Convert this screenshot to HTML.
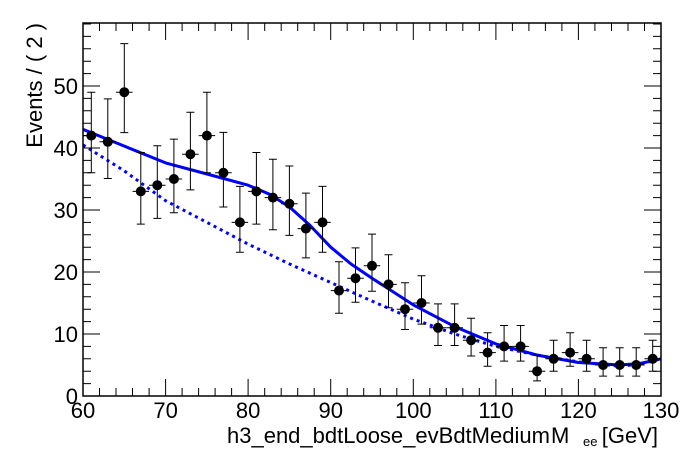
<!DOCTYPE html>
<html><head><style>body{margin:0;background:#fff}svg{display:block}text{font-family:"Liberation Sans",Arial,sans-serif}</style></head>
<body>
<svg width="696" height="472" viewBox="0 0 696 472" xmlns="http://www.w3.org/2000/svg">
<path d="M83,144.9 L124.3,170.9 L165.6,200.7 L206.9,222.4 L248.1,244.1 L289.4,263.9 L330.7,282.5 L372,301.1 L413.3,319.1 L454.6,334 L495.9,346.4 L537.1,355.1 L578.4,361.9 L619.7,366.2 L640,364 L661,358.8" fill="none" stroke="#0000ff" stroke-width="3" stroke-dasharray="3,4"/>
<path d="M83,129.4 L124.3,146.1 L165.6,162.9 L206.9,174 L248.1,185.2 L269,194 L289.4,206.9 L310.1,225.5 L330.7,247.2 L351,264 L372,278.2 L413.3,304.9 L454.6,326.6 L495.9,343.9 L537.1,355.1 L578.4,362.5 L619.7,365 L640,363.5 L661,358.8" fill="none" stroke="#0000ff" stroke-width="3" stroke-linejoin="round"/>
<g stroke="#000" stroke-width="1" fill="#000">
<g transform="translate(91.3,135.6)"><path d="M-8.26,0H8.26M0,-43.4V37.2M-4,-43.4H4M-4,37.2H4"/><circle r="4.5"/></g>
<g transform="translate(107.8,141.8)"><path d="M-8.26,0H8.26M0,-42.9V36.7M-4,-42.9H4M-4,36.7H4"/><circle r="4.5"/></g>
<g transform="translate(124.3,92.2)"><path d="M-8.26,0H8.26M0,-48.6V40.4M-4,-48.6H4M-4,40.4H4"/><circle r="4.5"/></g>
<g transform="translate(140.8,191.4)"><path d="M-8.26,0H8.26M0,-38.9V32.7M-4,-38.9H4M-4,32.7H4"/><circle r="4.5"/></g>
<g transform="translate(157.3,185.2)"><path d="M-8.26,0H8.26M0,-39.4V33.2M-4,-39.4H4M-4,33.2H4"/><circle r="4.5"/></g>
<g transform="translate(173.9,179)"><path d="M-8.26,0H8.26M0,-39.9V33.7M-4,-39.9H4M-4,33.7H4"/><circle r="4.5"/></g>
<g transform="translate(190.4,154.2)"><path d="M-8.26,0H8.26M0,-41.9V35.7M-4,-41.9H4M-4,35.7H4"/><circle r="4.5"/></g>
<g transform="translate(206.9,135.6)"><path d="M-8.26,0H8.26M0,-43.4V37.2M-4,-43.4H4M-4,37.2H4"/><circle r="4.5"/></g>
<g transform="translate(223.4,172.8)"><path d="M-8.26,0H8.26M0,-40.4V34.2M-4,-40.4H4M-4,34.2H4"/><circle r="4.5"/></g>
<g transform="translate(239.9,222.4)"><path d="M-8.26,0H8.26M0,-36V29.9M-4,-36H4M-4,29.9H4"/><circle r="4.5"/></g>
<g transform="translate(256.4,191.4)"><path d="M-8.26,0H8.26M0,-38.9V32.7M-4,-38.9H4M-4,32.7H4"/><circle r="4.5"/></g>
<g transform="translate(272.9,197.6)"><path d="M-8.26,0H8.26M0,-38.3V32.1M-4,-38.3H4M-4,32.1H4"/><circle r="4.5"/></g>
<g transform="translate(289.4,203.8)"><path d="M-8.26,0H8.26M0,-37.8V31.6M-4,-37.8H4M-4,31.6H4"/><circle r="4.5"/></g>
<g transform="translate(305.9,228.6)"><path d="M-8.26,0H8.26M0,-35.5V29.3M-4,-35.5H4M-4,29.3H4"/><circle r="4.5"/></g>
<g transform="translate(322.5,222.4)"><path d="M-8.26,0H8.26M0,-36V29.9M-4,-36H4M-4,29.9H4"/><circle r="4.5"/></g>
<g transform="translate(339,290.6)"><path d="M-8.26,0H8.26M0,-28.8V22.6M-4,-28.8H4M-4,22.6H4"/><circle r="4.5"/></g>
<g transform="translate(355.5,278.2)"><path d="M-8.26,0H8.26M0,-30.3V24.1M-4,-30.3H4M-4,24.1H4"/><circle r="4.5"/></g>
<g transform="translate(372,265.8)"><path d="M-8.26,0H8.26M0,-31.7V25.5M-4,-31.7H4M-4,25.5H4"/><circle r="4.5"/></g>
<g transform="translate(388.5,284.4)"><path d="M-8.26,0H8.26M0,-29.6V23.4M-4,-29.6H4M-4,23.4H4"/><circle r="4.5"/></g>
<g transform="translate(405,309.2)"><path d="M-8.26,0H8.26M0,-26.5V20.3M-4,-26.5H4M-4,20.3H4"/><circle r="4.5"/></g>
<g transform="translate(421.5,303)"><path d="M-8.26,0H8.26M0,-27.3V21.1M-4,-27.3H4M-4,21.1H4"/><circle r="4.5"/></g>
<g transform="translate(438,327.8)"><path d="M-8.26,0H8.26M0,-23.9V17.7M-4,-23.9H4M-4,17.7H4"/><circle r="4.5"/></g>
<g transform="translate(454.6,327.8)"><path d="M-8.26,0H8.26M0,-23.9V17.7M-4,-23.9H4M-4,17.7H4"/><circle r="4.5"/></g>
<g transform="translate(471.1,340.2)"><path d="M-8.26,0H8.26M0,-22V15.8M-4,-22H4M-4,15.8H4"/><circle r="4.5"/></g>
<g transform="translate(487.6,352.6)"><path d="M-8.26,0H8.26M0,-19.8V13.6M-4,-19.8H4M-4,13.6H4"/><circle r="4.5"/></g>
<g transform="translate(504.1,346.4)"><path d="M-8.26,0H8.26M0,-20.9V14.7M-4,-20.9H4M-4,14.7H4"/><circle r="4.5"/></g>
<g transform="translate(520.6,346.4)"><path d="M-8.26,0H8.26M0,-20.9V14.7M-4,-20.9H4M-4,14.7H4"/><circle r="4.5"/></g>
<g transform="translate(537.1,371.2)"><path d="M-8.26,0H8.26M0,-15.9V9.7M-4,-15.9H4M-4,9.7H4"/><circle r="4.5"/></g>
<g transform="translate(553.6,358.8)"><path d="M-8.26,0H8.26M0,-18.6V12.4M-4,-18.6H4M-4,12.4H4"/><circle r="4.5"/></g>
<g transform="translate(570.1,352.6)"><path d="M-8.26,0H8.26M0,-19.8V13.6M-4,-19.8H4M-4,13.6H4"/><circle r="4.5"/></g>
<g transform="translate(586.6,358.8)"><path d="M-8.26,0H8.26M0,-18.6V12.4M-4,-18.6H4M-4,12.4H4"/><circle r="4.5"/></g>
<g transform="translate(603.1,365)"><path d="M-8.26,0H8.26M0,-17.3V11.1M-4,-17.3H4M-4,11.1H4"/><circle r="4.5"/></g>
<g transform="translate(619.7,365)"><path d="M-8.26,0H8.26M0,-17.3V11.1M-4,-17.3H4M-4,11.1H4"/><circle r="4.5"/></g>
<g transform="translate(636.2,365)"><path d="M-8.26,0H8.26M0,-17.3V11.1M-4,-17.3H4M-4,11.1H4"/><circle r="4.5"/></g>
<g transform="translate(652.7,358.8)"><path d="M-8.26,0H8.26M0,-18.6V12.4M-4,-18.6H4M-4,12.4H4"/><circle r="4.5"/></g>
</g>
<rect x="83" y="23" width="578" height="373" fill="none" stroke="#000" stroke-width="1.5"/>
<g stroke="#000" stroke-width="1" fill="none">
<path d="M83,334h17M83,272h17M83,210h17M83,148h17M83,86h17M661,334h-17M661,272h-17M661,210h-17M661,148h-17M661,86h-17"/>
<path d="M83,383.6h8M83,371.2h8M83,358.8h8M83,346.4h8M83,321.6h8M83,309.2h8M83,296.8h8M83,284.4h8M83,259.6h8M83,247.2h8M83,234.8h8M83,222.4h8M83,197.6h8M83,185.2h8M83,172.8h8M83,160.4h8M83,135.6h8M83,123.2h8M83,110.8h8M83,98.4h8M83,73.6h8M83,61.2h8M83,48.8h8M83,36.4h8M83,24h8
M661,383.6h-8M661,371.2h-8M661,358.8h-8M661,346.4h-8M661,321.6h-8M661,309.2h-8M661,296.8h-8M661,284.4h-8M661,259.6h-8M661,247.2h-8M661,234.8h-8M661,222.4h-8M661,197.6h-8M661,185.2h-8M661,172.8h-8M661,160.4h-8M661,135.6h-8M661,123.2h-8M661,110.8h-8M661,98.4h-8M661,73.6h-8M661,61.2h-8M661,48.8h-8M661,36.4h-8M661,24h-8"/>
<path d="M165.6,396v-17M248.1,396v-17M330.7,396v-17M413.3,396v-17M495.9,396v-17M578.4,396v-17M165.6,23v17M248.1,23v17M330.7,23v17M413.3,23v17M495.9,23v17M578.4,23v17"/>
<path d="M99.5,396v-8M116,396v-8M132.5,396v-8M149.1,396v-8M182.1,396v-8M198.6,396v-8M215.1,396v-8M231.6,396v-8M264.7,396v-8M281.2,396v-8M297.7,396v-8M314.2,396v-8M347.2,396v-8M363.7,396v-8M380.3,396v-8M396.8,396v-8M429.8,396v-8M446.3,396v-8M462.8,396v-8M479.3,396v-8M512.4,396v-8M528.9,396v-8M545.4,396v-8M561.9,396v-8M594.9,396v-8M611.5,396v-8M628,396v-8M644.5,396v-8
M99.5,23v8M116,23v8M132.5,23v8M149.1,23v8M182.1,23v8M198.6,23v8M215.1,23v8M231.6,23v8M264.7,23v8M281.2,23v8M297.7,23v8M314.2,23v8M347.2,23v8M363.7,23v8M380.3,23v8M396.8,23v8M429.8,23v8M446.3,23v8M462.8,23v8M479.3,23v8M512.4,23v8M528.9,23v8M545.4,23v8M561.9,23v8M594.9,23v8M611.5,23v8M628,23v8M644.5,23v8"/>
</g>
<g font-size="22" fill="#000">
<g text-anchor="end">
<text x="78" y="404">0</text><text x="78" y="342">10</text><text x="78" y="280">20</text><text x="78" y="218">30</text><text x="78" y="156">40</text><text x="78" y="94">50</text>
</g>
<g text-anchor="middle">
<text x="83" y="418">60</text><text x="165.6" y="418">70</text><text x="248.1" y="418">80</text><text x="330.7" y="418">90</text><text x="413.3" y="418">100</text><text x="495.9" y="418">110</text><text x="578.4" y="418">120</text><text x="661" y="418">130</text>
</g>
<text text-anchor="end" transform="translate(42,23) rotate(-90)">Events / ( 2 )</text>
<text x="227" y="443">h3_end_bdtLoose_evBdtMedium</text>
<text x="551" y="443">M</text>
<text x="583" y="446" font-size="13">ee</text>
<text x="658" y="443" text-anchor="end">[GeV]</text>
</g>
</svg>
</body></html>
